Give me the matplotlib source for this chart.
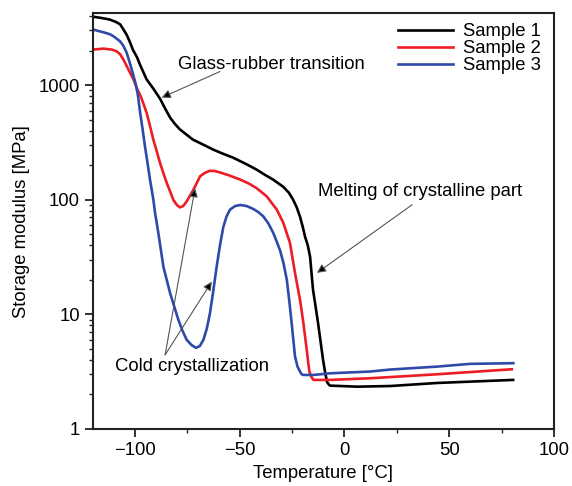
import matplotlib
matplotlib.use("Agg")
import matplotlib.pyplot as plt
from matplotlib import ticker

plt.rcParams['font.family'] = ['Liberation Sans', 'DejaVu Sans']

# Sample 1 (black)
s1_t = [-120, -116, -112, -109, -107, -104, -102.5, -101, -99, -97.6, -96, -94.4, -91,
        -88, -85.5, -83.2, -81, -78.5, -75, -72.3, -67, -62.7, -58, -53.2, -47,
        -41.9, -38, -34.1, -29.3, -26.5, -24.5, -22.8, -21.2, -19.9, -18.8, -17.5,
        -16.4, -15.0, -13.8, -12.6, -11.4, -10.2, -9.2, -8.3, -7.5, -6.9, 6.0,
        21.8, 44.2, 80.5]
s1_e = [3950, 3850, 3730, 3550, 3380, 2760, 2400, 2040, 1750, 1510, 1300, 1120, 920,
        760, 620, 520, 460, 410, 365, 334, 300, 274, 252, 233, 205,
        183, 165, 150, 130, 115, 100, 86, 71, 58, 47.5, 40,
        31.8, 16.4, 11.8, 8.4, 5.8, 4.0, 3.1, 2.57, 2.45, 2.39, 2.34,
        2.37, 2.52, 2.68]

# Sample 2 (red)
s2_t = [-120, -115, -111, -108.7, -107, -105.5, -102.3, -100.5, -99.1, -97, -94.4,
        -92.8, -91.2, -89.6, -88, -86.4, -84.8, -83.2, -81.7, -80, -78.5, -77,
        -75.3, -72.1, -68.9, -66.5, -64.2, -62, -59.4, -55, -49.8, -45.5, -41.9,
        -37.1, -32.3, -29.2, -26.0, -24.8, -23.6, -22.4, -21.2, -19.6, -18.0,
        -17.3, -16.7, -15.8, -14.8, -6.9, 12.2, 44.1, 79.9]
s2_e = [2040, 2080, 2040, 1970, 1850, 1670, 1280, 1100, 940, 780, 572,
        440, 334, 265, 209, 170, 140, 118, 100, 90, 85.7, 88,
        96.6, 122, 160, 172, 179, 178, 173, 163, 150, 138, 126,
        107, 82, 63, 42, 31, 23, 17.5, 13.4, 8.4, 4.9,
        3.8, 3.17, 2.85, 2.68, 2.68, 2.77, 3.0, 3.32]

# Sample 3 (blue)
s3_t = [-120, -115.1, -112, -110.3, -107.1, -105.5, -103.9, -102.7, -101.5, -99.5,
        -98.5, -97.6, -96.4, -95.2, -94, -92.8, -91.2, -90.4, -88.8, -86.4, -83.2,
        -79.3, -77.3, -75.3, -73, -70.8, -69, -67.3, -65.7, -64.2, -62.6, -61.0,
        -59.4, -57.8, -56.2, -54.6, -52.2, -49.8, -46.6, -43.5, -41.1, -38.7,
        -36.3, -33.9, -32.3, -30.7, -29.1, -27.5, -26.3, -25.2, -24.4, -23.6,
        -22.4, -21.2, -20.4, -19.6, -14.8, -6.9, 12.2, 21.8, 44.1, 60, 80.6]
s3_e = [3050, 2890, 2780, 2670, 2410, 2200, 1910, 1620, 1365, 1000,
        800, 590, 420, 292, 210, 150, 100, 77, 51, 26, 15.3,
        9.0, 7.2, 6.0, 5.4, 5.1, 5.3, 6.0, 7.5, 10.2, 16, 26,
        40, 58, 72, 82, 88, 90, 88, 83, 78, 71.5,
        62, 51, 43, 36, 28, 20, 13, 8.4, 6, 4.3,
        3.5, 3.17, 3.0, 2.96, 2.96, 3.06, 3.17, 3.3, 3.5, 3.7, 3.75]

labels = ["Sample 1", "Sample 2", "Sample 3"]
colors = ["#000000", "#ee1c24", "#2e4aa8"]

x_ticks = [-100, -50, 0, 50, 100]
y_ticks = [1, 10, 100, 1000]

fig = plt.figure(figsize=(5.72, 4.86), dpi=100)
ax = fig.add_axes([0.1626, 0.1173, 0.8059, 0.8553])

for t, e, lab, c in zip([s1_t, s2_t, s3_t], [s1_e, s2_e, s3_e], labels, colors):
    ax.plot(t, e, color=c, lw=1.9, label=lab, solid_joinstyle='round')

ax.set_yscale('log')
ax.set_xlim(-120, 100)
ax.set_ylim(1, 10 ** 3.626)
ax.set_xticks(x_ticks)
ax.xaxis.set_minor_locator(ticker.FixedLocator([-75, -25, 25, 75]))
ax.xaxis.set_major_formatter(ticker.FuncFormatter(lambda v, _: f"{v:g}".replace('-', '\u2212')))
ax.set_yticks(y_ticks)
ax.yaxis.set_major_formatter(ticker.FuncFormatter(lambda v, _: f"{v:g}"))
ax.yaxis.set_minor_formatter(ticker.NullFormatter())
ax.yaxis.set_minor_locator(ticker.LogLocator(base=10, subs=range(2, 10)))

ax.tick_params(which='major', direction='out', length=6, width=1.3, labelsize=13.3,
               top=False, right=False, color='#222222')
ax.tick_params(which='minor', direction='out', length=3, width=1.0,
               top=False, right=False, color='#222222')
for s in ax.spines.values():
    s.set_linewidth(1.5)
    s.set_color('#222222')

ax.set_xlabel("Temperature [°C]", fontsize=13.3, labelpad=4)
ax.set_ylabel("Storage modulus [MPa]", fontsize=13.3, labelpad=6)

leg = ax.legend(loc='upper right', bbox_to_anchor=(0.995, 1.003), frameon=False,
                fontsize=13.3, handlelength=3.0, handletextpad=0.5, labelspacing=0.0,
                borderaxespad=0.2)

arrow_kw = dict(arrowstyle='-|>', fc='black', ec='#555555', lw=0.8, mutation_scale=13,
                shrinkA=0, shrinkB=0)

ax.annotate("", xy=(-87.2, 778), xytext=(-59.4, 1313), arrowprops=arrow_kw)
ax.text(-79.4, 1510, "Glass-rubber transition", fontsize=13.3, ha='left', va='center')

ax.annotate("", xy=(-13.1, 23.0), xytext=(32.3, 90.4), arrowprops=arrow_kw)
ax.text(-12.6, 117.5, "Melting of crystalline part", fontsize=13.3, ha='left', va='center')

ax.annotate("", xy=(-71.3, 126), xytext=(-85.6, 4.43), arrowprops=arrow_kw)
ax.annotate("", xy=(-63.3, 19.3), xytext=(-85.6, 4.43), arrowprops=arrow_kw)
ax.text(-109.5, 3.5, "Cold crystallization", fontsize=13.3, ha='left', va='center')

fig.savefig("out.png", dpi=100)
